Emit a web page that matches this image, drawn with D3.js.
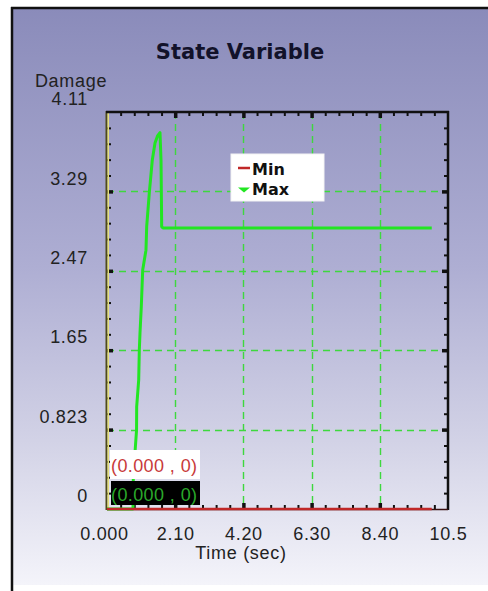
<!DOCTYPE html>
<html>
<head>
<meta charset="utf-8">
<script src="https://cdn.jsdelivr.net/npm/d3@7"></script>
<style>
  html, body { margin: 0; padding: 0; background: #ffffff; }
  svg { display: block; }
</style>
</head>
<body>
<svg id="chart" width="488" height="591"></svg>
<script>
// Time axis (seconds)
const xMax = 10.5;
const xTickLabels = ["0.000", "2.10", "4.20", "6.30", "8.40", "10.5"];
// Damage axis
const yMax = 4.11;
const yTickLabels = ["0", "0.823", "1.65", "2.47", "3.29", "4.11"];

// Series: Min stays at zero for the whole run
const minTime  = [0, 10.0];
const minValue = [0, 0];

// Series: Max ramps up, peaks, then settles on a plateau
const maxTime  = [0, 0.80, 0.81, 0.91, 0.914, 0.976, 0.995, 1.016, 1.056, 1.099, 1.20, 1.222, 1.302, 1.395, 1.478, 1.555, 1.632, 1.663, 1.684, 1.724, 10.0];
const maxValue = [0, 0,    0.334, 0.818, 1.059, 1.336, 1.646, 1.822, 2.094, 2.474, 2.68, 2.923, 3.271, 3.613, 3.789, 3.862, 3.896, 3.613, 2.923, 2.909, 2.909];

const seriesNames = ["Min", "Max"];
const seriesColors = ["#c02828", "#22e622"];

// Readout boxes in the lower-left corner
const readouts = ["(0.000 , 0)", "(0.000 , 0)"];

const svg = d3.select("#chart");
const W = 488, H = 591;
const plot = { left: 107, right: 448, top: 112, bottom: 509 };

const x = d3.scaleLinear().domain([0, xMax]).range([plot.left, plot.right]);
const y = d3.scaleLinear().domain([0, yMax]).range([plot.bottom, plot.top]);

const xMajor = xTickLabels.map((_, i) => i * xMax / (xTickLabels.length - 1));
const yMajor = yTickLabels.map((_, i) => i * yMax / (yTickLabels.length - 1));
const xMinor = d3.range(0, 26).map(i => i * xMax / 25).filter(v => !xMajor.some(m => Math.abs(m - v) < 1e-9));
const yMinor = d3.range(0, 26).map(i => i * yMax / 25).filter(v => !yMajor.some(m => Math.abs(m - v) < 1e-9));

// Panel background gradient
const defs = svg.append("defs");
const grad = defs.append("linearGradient").attr("id", "panelGrad")
  .attr("x1", 0).attr("y1", 0).attr("x2", 0).attr("y2", 1);
grad.append("stop").attr("offset", 0).attr("stop-color", "#8a8bba");
grad.append("stop").attr("offset", 0.45).attr("stop-color", "#aeaed3");
grad.append("stop").attr("offset", 0.75).attr("stop-color", "#d2d2e6");
grad.append("stop").attr("offset", 1).attr("stop-color", "#f4f4fa");

svg.append("rect").attr("x", 11).attr("y", 7).attr("width", W - 11).attr("height", 578)
  .attr("fill", "url(#panelGrad)");
svg.append("line").attr("x1", 11).attr("x2", W).attr("y1", 8).attr("y2", 8)
  .attr("stroke", "#111").attr("stroke-width", 2.5);
svg.append("line").attr("x1", 12).attr("x2", 12).attr("y1", 7).attr("y2", H)
  .attr("stroke", "#111").attr("stroke-width", 2.5);

// Title and axis titles
const font = "'Liberation Sans', Arial, sans-serif";
svg.append("text").attr("x", 240).attr("y", 59).attr("text-anchor", "middle")
  .style("font-family", "'DejaVu Sans', Verdana, sans-serif").style("font-weight", "bold")
  .style("font-size", "21px").attr("fill", "#12122a").text("State Variable");
svg.append("text").attr("x", 71).attr("y", 87).attr("text-anchor", "middle")
  .style("font-family", font).style("font-size", "18px").style("letter-spacing", "0.7px")
  .attr("fill", "#222").text("Damage");
svg.append("text").attr("x", 241).attr("y", 559).attr("text-anchor", "middle")
  .style("font-family", font).style("font-size", "18px").style("letter-spacing", "0.7px")
  .attr("fill", "#222").text("Time (sec)");

// Grid lines
const grid = svg.append("g").attr("stroke", "#3ed83e").attr("stroke-width", 1.4)
  .attr("stroke-dasharray", "7,5");
grid.selectAll(".gx").data(xMajor.slice(1, -1)).join("line")
  .attr("x1", d => Math.round(x(d)) + 0.5).attr("x2", d => Math.round(x(d)) + 0.5)
  .attr("y1", plot.top).attr("y2", plot.bottom);
grid.selectAll(".gy").data(yMajor.slice(1, -1)).join("line")
  .attr("y1", d => Math.round(y(d)) + 0.5).attr("y2", d => Math.round(y(d)) + 0.5)
  .attr("x1", plot.left).attr("x2", plot.right);

// Tick marks on all four sides, pointing inward
function tickLayer(axis, transform, values, size, width) {
  const g = svg.append("g").attr("transform", transform)
    .call(axis.tickValues(values).tickSize(size).tickFormat(""));
  g.select(".domain").remove();
  g.selectAll(".tick line").attr("stroke", "#111").attr("stroke-width", width);
  return g;
}
tickLayer(d3.axisLeft(y), `translate(${plot.left},0)`, yMinor, -4, 2);
tickLayer(d3.axisLeft(y), `translate(${plot.left},0)`, yMajor.slice(1, -1), -6, 3.5);
tickLayer(d3.axisRight(y), `translate(${plot.right},0)`, yMinor, -4, 2);
tickLayer(d3.axisRight(y), `translate(${plot.right},0)`, yMajor.slice(1, -1), -6, 3.5);
tickLayer(d3.axisTop(x), `translate(0,${plot.top})`, xMinor, -4, 2);
tickLayer(d3.axisTop(x), `translate(0,${plot.top})`, xMajor.slice(1, -1), -6, 3.5);
tickLayer(d3.axisBottom(x), `translate(0,${plot.bottom})`, xMinor, -4, 2);
tickLayer(d3.axisBottom(x), `translate(0,${plot.bottom})`, xMajor.slice(1, -1), -6, 3.5);

// Tick labels
const yAxis = svg.append("g").attr("transform", `translate(${plot.left - 19},0)`)
  .call(d3.axisLeft(y).tickValues(yMajor).tickSize(0).tickPadding(0)
    .tickFormat((d, i) => yTickLabels[i]));
yAxis.select(".domain").remove();
yAxis.selectAll("text").attr("y", -13)
  .style("font-family", font).style("font-size", "18px").style("letter-spacing", "0.7px")
  .attr("fill", "#222");

const xAxis = svg.append("g").attr("transform", `translate(0,${plot.bottom})`)
  .call(d3.axisBottom(x).tickValues(xMajor).tickSize(0).tickPadding(0)
    .tickFormat((d, i) => xTickLabels[i]));
xAxis.select(".domain").remove();
xAxis.selectAll("text").attr("y", 18)
  .style("font-family", font).style("font-size", "18px").style("letter-spacing", "0.7px")
  .attr("fill", "#222");
xAxis.selectAll(".tick").filter((d, i) => i === 0).select("text").attr("dx", -3);

// Plot frame: olive left edge, black top and right edges
svg.append("line").attr("x1", plot.left - 0.5).attr("x2", plot.left - 0.5)
  .attr("y1", plot.top - 1).attr("y2", plot.bottom + 1).attr("stroke", "#4d4a1c").attr("stroke-width", 2);
svg.append("line").attr("x1", plot.left + 1.25).attr("x2", plot.left + 1.25)
  .attr("y1", plot.top).attr("y2", plot.bottom).attr("stroke", "#e6df7a").attr("stroke-width", 1.5);
svg.append("line").attr("x1", plot.left - 1).attr("x2", plot.right + 1)
  .attr("y1", plot.top).attr("y2", plot.top).attr("stroke", "#111").attr("stroke-width", 2.5);
svg.append("line").attr("x1", plot.right).attr("x2", plot.right)
  .attr("y1", plot.top - 1).attr("y2", plot.bottom + 1).attr("stroke", "#111").attr("stroke-width", 2.5);
svg.append("line").attr("x1", plot.left).attr("x2", plot.right)
  .attr("y1", plot.bottom + 0.5).attr("y2", plot.bottom + 0.5).attr("stroke", "#3a1010").attr("stroke-width", 1.5);

// Data lines
const line = d3.line().x(d => x(d[0])).y(d => y(d[1]));
svg.append("path").datum(maxTime.map((t, i) => [t, maxValue[i]]))
  .attr("d", line).attr("fill", "none").attr("stroke", seriesColors[1])
  .attr("stroke-width", 3).attr("stroke-linejoin", "round");
svg.append("path").datum(minTime.map((t, i) => [t, minValue[i]]))
  .attr("d", line).attr("fill", "none").attr("stroke", seriesColors[0])
  .attr("stroke-width", 2.5);

// Readout boxes
const ro = svg.append("g");
ro.append("rect").attr("x", 110).attr("y", 450).attr("width", 90).attr("height", 29).attr("fill", "#ffffff");
ro.append("text").attr("x", 111).attr("y", 471.5)
  .style("font-family", font).style("font-size", "18px").style("letter-spacing", "0.4px")
  .attr("fill", "#c83a3a").text(readouts[0]);
ro.append("rect").attr("x", 111).attr("y", 481).attr("width", 89).attr("height", 24).attr("fill", "#000000");
ro.append("text").attr("x", 111).attr("y", 500.5)
  .style("font-family", font).style("font-size", "18px").style("letter-spacing", "0.4px")
  .attr("fill", "#2aa82a").text(readouts[1]);

// Legend
const lg = svg.append("g");
lg.append("rect").attr("x", 231).attr("y", 154).attr("width", 93).attr("height", 47)
  .attr("fill", "#ffffff").attr("stroke", "#f4f4f4").attr("stroke-width", 1);
lg.append("line").attr("x1", 238).attr("x2", 250).attr("y1", 168).attr("y2", 168)
  .attr("stroke", seriesColors[0]).attr("stroke-width", 2.5);
lg.append("path").attr("d", "M238,187.5 L250,187.5 L244,192.5 Z").attr("fill", seriesColors[1]);
lg.selectAll(".lt").data(seriesNames).join("text")
  .attr("x", 252).attr("y", (d, i) => 175 + i * 20)
  .style("font-family", "'DejaVu Sans', Verdana, sans-serif").style("font-weight", "bold")
  .style("font-size", "16px").attr("fill", "#111").text(d => d);
</script>
</body>
</html>
